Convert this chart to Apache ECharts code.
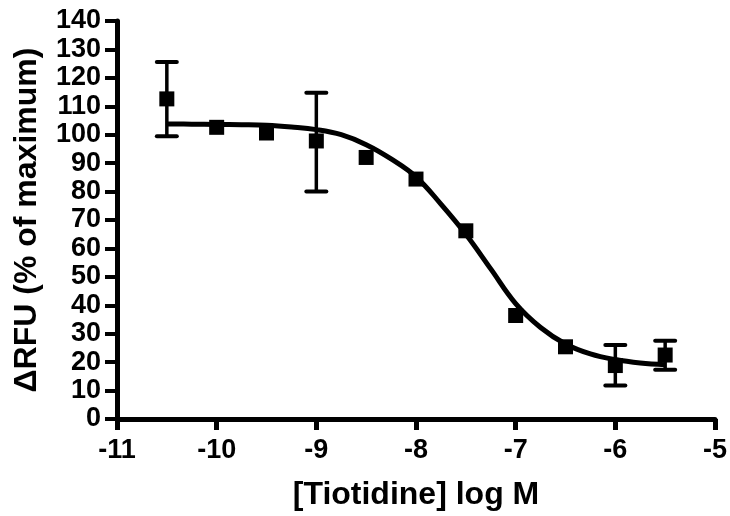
<!DOCTYPE html>
<html lang="en">
<head>
    <meta http-equiv="content-type" content="text/html; charset=utf-8" />
    <script type="text/javascript" src="https://cdn.jsdelivr.net/npm/echarts@6/dist/echarts.min.js"></script>
    <title>Tiotidine</title>
    <style>
        html, body { margin: 0; padding: 0; background: #fff; }
        #chart { width: 730px; height: 516px; }
    </style>
</head>
<body>
<div id="chart"></div>
<script type="text/javascript">
    // 数据点 (log M, %)
    var logDose = [-10.5, -10, -9.5, -9, -8.5, -8, -7.5, -7, -6.5, -6, -5.5];
    var meanVal = [112.6, 102.6, 100.6, 97.8, 92.0, 84.4, 66.2, 36.4, 25.4, 18.8, 22.5];
    var errLow  = [99.5, null, null, 80.0, null, null, null, null, null, 11.8, 17.3];
    var errHigh = [125.6, null, null, 114.8, null, null, null, null, null, 26.0, 27.5];
    // 拟合曲线
    var curveX = [-10.5, -10.25, -10, -9.75, -9.5, -9.25, -9, -8.75, -8.5, -8.25, -8,
                  -7.75, -7.5, -7.25, -7, -6.75, -6.5, -6.25, -6, -5.75, -5.5];
    var curveY = [103.8, 103.7, 103.6, 103.5, 103.3, 102.7, 101.8, 100.0, 96.5, 91.5, 85.2,
                  75.6, 65.0, 52.8, 40.6, 32.2, 26.4, 22.9, 20.9, 19.7, 19.1];
    var xTicks = [-11, -10, -9, -8, -7, -6, -5];

    var font = 'Liberation Sans';
    var pts = logDose.map(function (x, i) { return [x, meanVal[i]]; });
    var curve = curveX.map(function (x, i) { return [x, curveY[i]]; });
    var errs = [];
    for (var i = 0; i < logDose.length; i++) {
        if (errLow[i] != null) errs.push([logDose[i], errLow[i], errHigh[i]]);
    }

    var chart = echarts.init(document.getElementById('chart'), null, { renderer: 'canvas' });
    chart.setOption({
        animation: false,
        backgroundColor: '#fff',
        grid: { left: 117, right: 13, top: 21, bottom: 93, containLabel: false },
        xAxis: {
            type: 'value', min: xTicks[0], max: xTicks[xTicks.length - 1], interval: 1,
            name: '[Tiotidine] log M', nameLocation: 'middle', nameGap: 60,
            nameTextStyle: { fontFamily: font, fontWeight: 'bold', fontSize: 32, color: '#000' },
            axisLine: { onZero: false, lineStyle: { color: '#000', width: 5 } },
            axisTick: { length: 11, lineStyle: { color: '#000', width: 5 } },
            axisLabel: { margin: 18, fontFamily: font, fontWeight: 'bold', fontSize: 27, color: '#000' },
            splitLine: { show: false }
        },
        yAxis: {
            type: 'value', min: 0, max: 140, interval: 10,
            name: 'ΔRFU (% of maximum)', nameLocation: 'middle', nameGap: 74,
            nameTextStyle: { fontFamily: font, fontWeight: 'bold', fontSize: 32, color: '#000' },
            axisLine: { onZero: false, lineStyle: { color: '#000', width: 5 } },
            axisTick: { length: 12, lineStyle: { color: '#000', width: 4 } },
            axisLabel: { margin: 16, fontFamily: font, fontWeight: 'bold', fontSize: 27, color: '#000' },
            splitLine: { show: false }
        },
        series: [
            {
                type: 'line', data: curve, smooth: 0.4, symbol: 'none',
                lineStyle: { color: '#000', width: 5 }, z: 2
            },
            {
                type: 'custom', data: errs, z: 3,
                renderItem: function (params, api) {
                    var x = api.value(0);
                    var lo = api.coord([x, api.value(1)]);
                    var hi = api.coord([x, api.value(2)]);
                    var w = 10;
                    var cap = { stroke: '#000', lineWidth: 4, lineCap: 'round' };
                    return {
                        type: 'group',
                        children: [
                            { type: 'line', shape: { x1: lo[0], y1: lo[1], x2: hi[0], y2: hi[1] }, style: { stroke: '#000', lineWidth: 3.5 } },
                            { type: 'line', shape: { x1: lo[0] - w, y1: lo[1], x2: lo[0] + w, y2: lo[1] }, style: cap },
                            { type: 'line', shape: { x1: hi[0] - w, y1: hi[1], x2: hi[0] + w, y2: hi[1] }, style: cap }
                        ]
                    };
                }
            },
            {
                type: 'scatter', data: pts, symbol: 'rect', symbolSize: 15,
                itemStyle: { color: '#000', opacity: 1 }, z: 4
            }
        ]
    });
</script>
</body>
</html>
